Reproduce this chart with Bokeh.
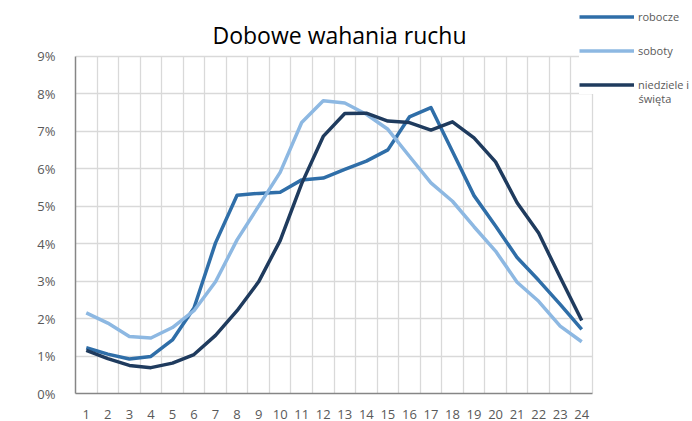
from bokeh.plotting import figure
from bokeh.models import Range1d, FixedTicker, PrintfTickFormatter, Legend, LegendItem, Label
from bokeh.embed import file_html
from bokeh.resources import INLINE

# udział ruchu w danej godzinie doby [%]
hours = list(range(1, 25))
robocze = [1.22, 1.05, 0.92, 0.99, 1.43, 2.28, 4.02, 5.29, 5.34, 5.37, 5.70, 5.75,
           5.98, 6.20, 6.50, 7.38, 7.63, 6.46, 5.28, 4.47, 3.63, 3.02, 2.38, 1.71]
soboty = [2.15, 1.88, 1.52, 1.48, 1.76, 2.21, 2.98, 4.10, 5.00, 5.90, 7.23, 7.81,
          7.75, 7.45, 7.05, 6.33, 5.62, 5.13, 4.45, 3.80, 2.97, 2.46, 1.80, 1.38]
niedziele = [1.15, 0.93, 0.75, 0.69, 0.81, 1.04, 1.55, 2.21, 2.98, 4.08, 5.60, 6.86,
             7.47, 7.48, 7.27, 7.23, 7.03, 7.25, 6.82, 6.18, 5.09, 4.28, 3.10, 1.95]
y_ticks = list(range(0, 10))

names = ["robocze", "soboty", "niedziele i"]
colors = ["#2F6EA8", "#8DB8E2", "#1F3B5E"]

W, H = 692, 421
LEFT, BOTTOM = 75, 26
PLOT_W, PLOT_H = 517, 339  # obszar wykresu (siatka) w pikselach
frame_w, frame_h = W - LEFT, H - BOTTOM

# ramka zajmuje całe płótno nad osią X, żeby legenda i tytuł nie były przycinane
p = figure(width=W, height=H, output_backend="svg", toolbar_location=None,
           x_range=Range1d(0.5, 0.5 + 24 * frame_w / PLOT_W),
           y_range=Range1d(0, 9 * frame_h / PLOT_H),
           min_border_left=LEFT, min_border_right=0, min_border_top=0,
           min_border_bottom=BOTTOM)
p.outline_line_color = None

title = Label(x=264, y=frame_h - 36, x_units="screen", y_units="screen",
              text="Dobowe wahania ruchu", text_align="center",
              text_baseline="middle", text_font="Open Sans",
              text_font_size="23px", text_color="#000000")
p.add_layout(title)

p.xaxis.ticker = FixedTicker(ticks=hours)
p.xaxis.bounds = (0.5, 24.5)
p.yaxis.ticker = FixedTicker(ticks=y_ticks)
p.yaxis.bounds = (0, 9)
p.yaxis.formatter = PrintfTickFormatter(format="%d%%")

p.xgrid.ticker = FixedTicker(ticks=[h + 0.5 for h in hours])
p.xgrid.bounds = (0, 25)
p.xgrid.cross_bounds = (0, 9)
p.ygrid.ticker = FixedTicker(ticks=y_ticks)
p.ygrid.bounds = (-1, 10)
p.ygrid.cross_bounds = (0.5, 24.5)

for ax in (p.xaxis, p.yaxis):
    ax.major_tick_line_color = None
    ax.minor_tick_line_color = None
    ax.axis_line_color = "#868686"
    ax.axis_line_width = 1.5
    ax.major_label_text_color = "#595959"
    ax.major_label_text_font = "Open Sans"
    ax.major_label_text_font_size = "13px"
p.yaxis.major_label_standoff = 14
p.xaxis.major_label_standoff = 10

p.grid.grid_line_color = "#D9D9D9"
p.grid.grid_line_width = 1.3

renderers = []
for series, color in zip([robocze, soboty, niedziele], colors):
    r = p.line(hours, series, line_color=color, line_width=3.5, line_join="round")
    renderers.append(r)

legend = Legend(
    items=[LegendItem(label=n, renderers=[r]) for n, r in zip(names, renderers)],
    location=(504, 299),
    glyph_width=55, glyph_height=19, label_height=19,
    label_standoff=4, padding=6, spacing=15, margin=0,
    label_text_font="Open Sans", label_text_font_size="11px",
    label_text_color="#595959",
    background_fill_color="white", background_fill_alpha=1.0,
    border_line_color=None,
)
p.add_layout(legend)

# druga linia etykiety "niedziele i święta"
legend_wrap = Label(x=563, y=frame_h - 100, x_units="screen", y_units="screen",
                    text="święta", text_align="left", text_baseline="middle",
                    text_font="Open Sans", text_font_size="11px",
                    text_color="#595959")
p.add_layout(legend_wrap)

open("out.html", "w").write(file_html(p, INLINE))
